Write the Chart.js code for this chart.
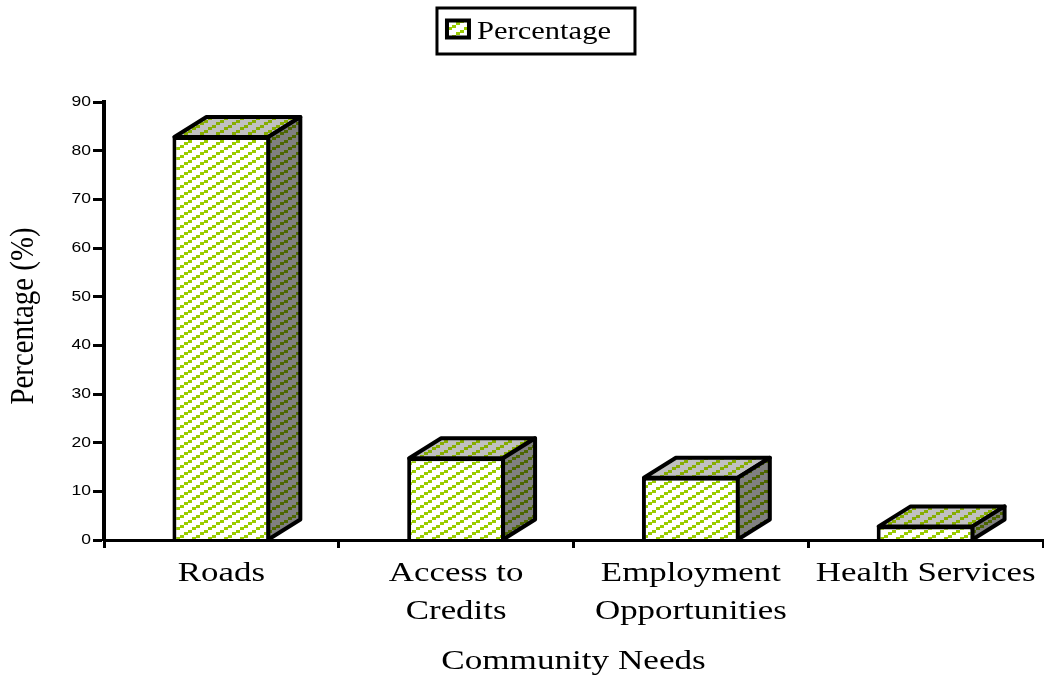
<!DOCTYPE html>
<html>
<head>
<meta charset="utf-8">
<script src="https://cdn.jsdelivr.net/npm/chart.js@4/dist/chart.umd.min.js"></script>
<style>
html, body { margin: 0; padding: 0; background: #fff; }
#wrap { width: 1044px; height: 676px; }
</style>
</head>
<body>
<div id="wrap"><canvas id="needs"></canvas></div>
<script>
const categories = ['Roads', ['Access to', 'Credits'], ['Employment', 'Opportunities'], 'Health Services'];
const percentages = [83, 17, 13, 3];
const yMax = 90;
const yStep = 10;

const serif = '"Liberation Serif", serif';

function hatch(bg, fg) {
    const c = document.createElement('canvas');
    c.width = 16;
    c.height = 10;
    const x = c.getContext('2d');
    x.fillStyle = bg;
    x.fillRect(0, 0, 16, 10);
    x.fillStyle = fg;
    x.fillRect(0, 7, 4, 3);
    x.fillRect(4, 5, 4, 3);
    x.fillRect(8, 2, 4, 3);
    x.fillRect(12, 0, 4, 3);
    return x.createPattern(c, 'repeat');
}

const ctx = document.getElementById('needs').getContext('2d');
const frontFill = hatch('#ffffff', '#99cc00');
const topFill = hatch('#c0c0c0', '#86ad00');
const sideFill = hatch('#808080', '#4d6600');

// the reference text is stretched, so scale each string around its anchor
function stretched(obj, method, sx, sy = 1, dx = 0, dy = 0) {
    const orig = obj[method];
    const fillText = ctx.fillText;
    obj[method] = function(...args) {
        ctx.fillText = function(text, x, y) {
            ctx.save();
            ctx.translate(x + dx, y + dy);
            ctx.scale(sx, sy);
            fillText.call(ctx, text, 0, 0);
            ctx.restore();
        };
        orig.apply(this, args);
        delete ctx.fillText;
    };
}

const box3d = {
    id: 'box3d',
    afterLayout(chart) {
        if (chart.$stretched) return;
        chart.$stretched = true;
        stretched(chart.scales.x, 'drawLabels', 1.245);
        stretched(chart.scales.x, 'drawTitle', 1.255);
        stretched(chart.scales.y, 'drawLabels', 1.25);
        stretched(chart.scales.y, 'drawTitle', 1.11, 1.3, 5);
        stretched(chart.legend, 'draw', 1.175, 1, -5, 3);
    },
    afterDatasetsDraw(chart) {
        const c = chart.ctx;
        const dx = 32, dy = 20;
        chart.getDatasetMeta(0).data.forEach(bar => {
            const p = bar.getProps(['x', 'y', 'base', 'width'], true);
            const l = p.x - p.width / 2 + 2, r = p.x + p.width / 2 - 2;
            const t = p.y + 1;
            c.save();
            c.lineWidth = 4;
            c.strokeStyle = '#000';
            c.lineJoin = 'round';
            c.beginPath();
            c.moveTo(l, t);
            c.lineTo(l + dx, t - dy);
            c.lineTo(r + dx, t - dy);
            c.lineTo(r, t);
            c.closePath();
            c.fillStyle = topFill;
            c.fill();
            c.stroke();
            c.beginPath();
            c.moveTo(r, t);
            c.lineTo(r + dx, t - dy);
            c.lineTo(r + dx, p.base - dy);
            c.lineTo(r, p.base);
            c.closePath();
            c.fillStyle = sideFill;
            c.fill();
            c.stroke();
            c.restore();
        });
        // frame round the legend
        const lg = chart.legend;
        const hit = lg.legendHitBoxes[0];
        c.save();
        c.lineWidth = 3;
        c.strokeStyle = '#000';
        c.strokeRect(hit.left - 10, lg.top + 2, 198, 46);
        c.restore();
    }
};

new Chart(ctx, {
    type: 'bar',
    data: {
        labels: categories,
        datasets: [{
            label: 'Percentage',
            data: percentages,
            backgroundColor: frontFill,
            borderColor: '#000',
            borderWidth: 4,
            barPercentage: 0.417,
            categoryPercentage: 1
        }]
    },
    plugins: [box3d],
    options: {
        responsive: true,
        maintainAspectRatio: false,
        animation: false,
        layout: { padding: { top: 6, right: 1, bottom: 0, left: 0 } },
        plugins: {
            tooltip: { enabled: false },
            legend: {
                position: 'top',
                labels: {
                    boxWidth: 22,
                    boxHeight: 17,
                    color: '#000',
                    padding: 10,
                    font: { family: serif, size: 26 }
                }
            },
            // empty block, only keeps the plot down under the legend
            subtitle: {
                display: true,
                text: '',
                weight: 500,
                font: { size: 10, lineHeight: 1 },
                padding: { top: 0, bottom: 40 }
            }
        },
        scales: {
            x: {
                afterFit(scale) { scale.height = 136; },
                border: { color: '#000', width: 3, z: 1 },
                grid: { display: true, drawOnChartArea: false, drawTicks: true, tickLength: 8, tickColor: '#000', tickWidth: 3, offset: true },
                ticks: { color: '#000', maxRotation: 0, padding: 7, font: { family: serif, size: 28, lineHeight: 1.35 } },
                title: { display: true, text: 'Community Needs', color: '#000', padding: { top: 0, bottom: -2 }, font: { family: serif, size: 28 } }
            },
            y: {
                min: 0,
                max: yMax,
                afterFit(scale) { scale.width = 104; },
                border: { color: '#000', width: 4 },
                grid: { drawOnChartArea: false, tickLength: 11, tickColor: '#000', tickWidth: 3 },
                ticks: { stepSize: yStep, color: '#000', padding: 2, font: { family: '"Liberation Sans", sans-serif', size: 14 } },
                title: { display: true, text: 'Percentage (%)', color: '#000', padding: { top: 9, bottom: 0 }, font: { family: serif, size: 26 } }
            }
        }
    }
});
</script>
</body>
</html>
